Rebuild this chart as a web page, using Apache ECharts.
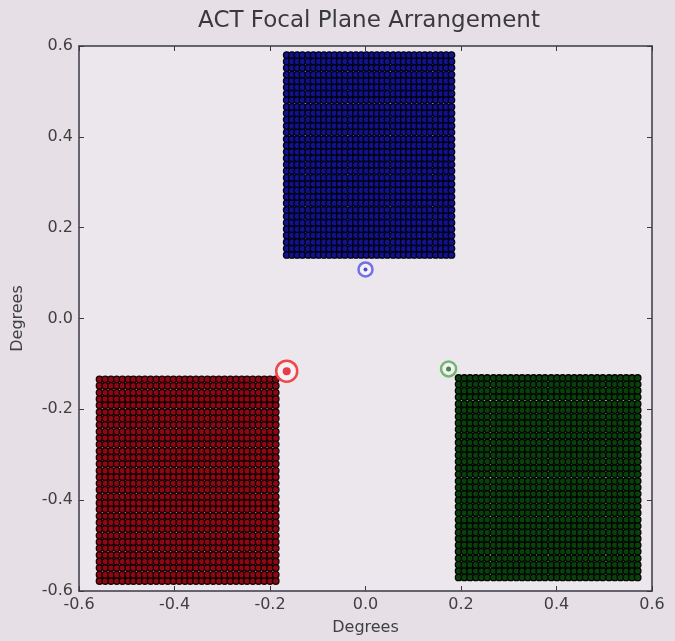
<!DOCTYPE html>
<html>
<head>
<meta charset="utf-8">
<script src="https://cdn.jsdelivr.net/npm/echarts@6/dist/echarts.min.js"></script>
<style>
html,body{margin:0;padding:0;background:#e6e0e6;}
#chart{width:675px;height:641px;}
</style>
</head>
<body>
<div id="chart"></div>
<script>
// Column x positions and row y positions (degrees) of each detector array
var blueCols = [-0.165,-0.154,-0.143,-0.132,-0.120,-0.109,-0.098,-0.087,-0.076,-0.065,-0.054,-0.043,-0.031,-0.020,-0.009,0.002,0.013,0.024,0.035,0.046,0.058,0.069,0.080,0.091,0.102,0.113,0.124,0.135,0.147,0.158,0.169,0.180];
var blueRows = [0.140,0.154,0.168,0.183,0.197,0.211,0.225,0.239,0.254,0.268,0.282,0.296,0.310,0.325,0.339,0.353,0.367,0.381,0.395,0.410,0.424,0.438,0.452,0.466,0.481,0.495,0.509,0.523,0.537,0.552,0.566,0.580];
var redCols = [-0.557,-0.545,-0.533,-0.521,-0.509,-0.497,-0.486,-0.474,-0.462,-0.450,-0.438,-0.426,-0.414,-0.402,-0.390,-0.378,-0.367,-0.355,-0.343,-0.331,-0.319,-0.307,-0.295,-0.283,-0.271,-0.259,-0.248,-0.236,-0.224,-0.212,-0.200,-0.188];
var redRows = [-0.578,-0.564,-0.549,-0.535,-0.521,-0.506,-0.492,-0.478,-0.463,-0.449,-0.435,-0.420,-0.406,-0.392,-0.377,-0.363,-0.349,-0.335,-0.320,-0.306,-0.292,-0.277,-0.263,-0.249,-0.234,-0.220,-0.206,-0.191,-0.177,-0.163,-0.148,-0.134];
var greenCols = [0.195,0.207,0.219,0.231,0.243,0.255,0.268,0.280,0.292,0.304,0.316,0.328,0.340,0.352,0.364,0.376,0.389,0.401,0.413,0.425,0.437,0.449,0.461,0.473,0.485,0.497,0.510,0.522,0.534,0.546,0.558,0.570];
var greenRows = [-0.570,-0.556,-0.542,-0.528,-0.513,-0.499,-0.485,-0.471,-0.457,-0.443,-0.428,-0.414,-0.400,-0.386,-0.372,-0.358,-0.343,-0.329,-0.315,-0.301,-0.287,-0.273,-0.258,-0.244,-0.230,-0.216,-0.202,-0.188,-0.173,-0.159,-0.145,-0.131];
// Array centre markers
var blueCenter = [0.000, 0.108];
var redCenter = [-0.165, -0.116];
var greenCenter = [0.174, -0.111];

function grid(cols, rows){
  var out = [];
  for (var r = 0; r < rows.length; r++)
    for (var c = 0; c < cols.length; c++) out.push([cols[c], rows[r]]);
  return out;
}

var chart = echarts.init(document.getElementById('chart'));
var axisCommon = {
  type:'value', min:-0.6, max:0.6, interval:0.2,
  axisLine:{onZero:false, lineStyle:{color:'#3a3a44', width:1.5}},
  axisTick:{inside:true, length:5, lineStyle:{color:'#3a3a44'}},
  splitLine:{show:false},
  axisLabel:{color:'#404040', fontSize:16, margin:6, fontFamily:'DejaVu Sans',
    formatter:function(v){return v.toFixed(1);}}
};
function arraySeries(data, fill, edge){
  return {type:'scatter', data:data, symbol:'circle', symbolSize:6.5,
    itemStyle:{color:fill, borderColor:edge, borderWidth:1.3, opacity:1},
    silent:true, animation:false};
}
function ring(pt, size, color, width){
  return {type:'scatter', data:[pt], symbol:'circle', symbolSize:size,
    itemStyle:{color:'#f6f0f4', borderColor:color, borderWidth:width, opacity:1}, silent:true, animation:false, z:5};
}
function dot(pt, size, color){
  return {type:'scatter', data:[pt], symbol:'circle', symbolSize:size,
    itemStyle:{color:color}, silent:true, animation:false, z:6};
}
chart.setOption({
  backgroundColor:'#e6e0e6',
  title:{text:'ACT Focal Plane Arrangement', left:364, top:5, textAlign:'center',
    textStyle:{color:'#3a3a3a', fontSize:23, fontWeight:'normal', fontFamily:'DejaVu Sans'}},
  grid:{left:79, right:23, top:46, bottom:49, show:true, backgroundColor:'#ece7ed', borderWidth:0},
  xAxis:[
    Object.assign({}, axisCommon, {position:'bottom', name:'Degrees', nameLocation:'middle', nameGap:29,
      nameTextStyle:{color:'#404040', fontSize:16, fontFamily:'DejaVu Sans'}}),
    Object.assign({}, axisCommon, {position:'top', axisLabel:{show:false}})
  ],
  yAxis:[
    Object.assign({}, axisCommon, {position:'left', name:'Degrees', nameLocation:'middle', nameGap:53,
      nameTextStyle:{color:'#404040', fontSize:16, fontFamily:'DejaVu Sans'}}),
    Object.assign({}, axisCommon, {position:'right', axisLabel:{show:false}})
  ],
  series:[
    arraySeries(grid(blueCols, blueRows), '#12128c', '#010114'),
    arraySeries(grid(redCols, redRows), '#8e0814', '#160003'),
    arraySeries(grid(greenCols, greenRows), '#0a400c', '#010601'),
    ring(blueCenter, 14, '#7070e8', 2.5), dot(blueCenter, 4, '#2020c0'),
    ring(redCenter, 21, '#f04848', 2.5), dot(redCenter, 8, '#e01020'),
    ring(greenCenter, 15, '#70b870', 2.5), dot(greenCenter, 5, '#107020')
  ]
});
</script>
</body>
</html>
